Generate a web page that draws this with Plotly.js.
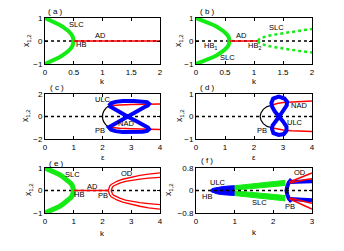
<!DOCTYPE html>
<html><head><meta charset="utf-8">
<script src="https://cdn.plot.ly/plotly-3.0.1.min.js"></script>
<style>body{margin:0;padding:0;background:#fff}#c{width:344px;height:251px}</style>
</head><body><div id="c"></div>
<script>
// ---------- panel (a) ----------
const a_k = [0,0.05,0.1,0.15,0.2,0.25,0.3,0.35,0.4,0.45,0.48,0.5];
const a_up = [1,0.949,0.894,0.837,0.775,0.707,0.632,0.548,0.447,0.316,0.2,0];
const a_dn = [-1,-0.949,-0.894,-0.837,-0.775,-0.707,-0.632,-0.548,-0.447,-0.316,-0.2,0];
const a_adK = [0.5,2]; const a_adY = [0,0];
// ---------- panel (b) ----------
const b_k1 = [0,0.06,0.12,0.18,0.24,0.3,0.36,0.42,0.48,0.53,0.56,0.58];
const b_up1 = [1,0.947,0.891,0.831,0.766,0.695,0.616,0.525,0.415,0.294,0.186,0];
const b_dn1 = [-1,-0.947,-0.891,-0.831,-0.766,-0.695,-0.616,-0.525,-0.415,-0.294,-0.186,0];
const b_adK = [0.58,1.07]; const b_adY = [0,0];
const b_k2 = [1.07,1.09,1.13,1.18,1.25,1.32,1.4,1.5,1.6,1.7,1.8,1.9,2.0];
const b_up2 = [0,0.077,0.135,0.18,0.228,0.265,0.3,0.345,0.385,0.42,0.455,0.49,0.52];
const b_dn2 = [0,-0.074,-0.13,-0.173,-0.22,-0.255,-0.29,-0.333,-0.37,-0.405,-0.44,-0.47,-0.5];
// ---------- panel (c) ----------
const c_pbE = [2.22,2.12,2.05,2.01,2.0,2.01,2.05,2.12,2.22];
const c_pbY = [0.95,0.75,0.5,0.25,0,-0.25,-0.5,-0.75,-0.95];
const c_redE = [2.22,2.4,2.6,3.0,3.5,4.0];
const c_redUp = [0.95,1.0,1.03,1.06,1.08,1.1];
const c_redDn = [-0.95,-1.0,-1.04,-1.08,-1.12,-1.15];
const c_ulcE = [2.22,2.3,2.45,2.7,3.1,3.4,3.55,3.62,3.58,3.45,3.2,2.87,2.55,2.3,2.22,
                2.3,2.45,2.7,3.1,3.4,3.55,3.62,3.58,3.45,3.2,2.87,2.55,2.3,2.22];
const c_ulcY = [0.95,1.18,1.3,1.37,1.38,1.35,1.28,1.12,0.98,0.82,0.45,0,-0.45,-0.8,-0.95,
                -1.18,-1.3,-1.37,-1.38,-1.35,-1.28,-1.12,-0.98,-0.82,-0.45,0,0.45,0.8,0.95];
// ---------- panel (d) ----------
const d_pbE = [2.62,2.45,2.32,2.24,2.21,2.24,2.32,2.45,2.62];
const d_pbY = [0.5,0.44,0.32,0.16,0,-0.16,-0.32,-0.44,-0.5];
const d_redE = [2.6,2.8,3.0,3.3,3.6,4.0];
const d_redUp = [0.5,0.58,0.62,0.65,0.67,0.69];
const d_redDn = [-0.5,-0.56,-0.6,-0.63,-0.65,-0.67];
const d_ulcE = [2.87,3.02,3.13,3.14,3.05,2.85,2.66,2.6,2.63,2.72,2.87,3.0,3.12,3.12,3.03,2.85,2.67,2.62,2.64,2.73,2.87];
const d_ulcY = [0,0.27,0.5,0.66,0.8,0.88,0.8,0.6,0.42,0.22,0,-0.22,-0.45,-0.64,-0.78,-0.82,-0.74,-0.55,-0.4,-0.22,0];
// ---------- panel (e) ----------
const e_k = [0,0.1,0.2,0.3,0.4,0.5,0.6,0.7,0.8,0.9,0.95,1];
const e_up = [1,0.949,0.894,0.837,0.775,0.707,0.632,0.548,0.447,0.316,0.224,0];
const e_dn = [-1,-0.949,-0.894,-0.837,-0.775,-0.707,-0.632,-0.548,-0.447,-0.316,-0.224,0];
const e_adK = [1,2.2]; const e_adY = [0,0];
const e_odKo = [2.2,2.22,2.25,2.3,2.4,2.5,2.7,3.0,3.3,3.6,4.0];
const e_odUpO = [0,0.12,0.2,0.27,0.35,0.41,0.5,0.6,0.67,0.73,0.78];
const e_odDnO = [0,-0.12,-0.2,-0.28,-0.36,-0.42,-0.52,-0.62,-0.7,-0.77,-0.83];
const e_odKi = [2.3,2.32,2.35,2.4,2.5,2.6,2.8,3.0,3.3,3.6,4.0];
const e_odUpI = [0,0.1,0.16,0.21,0.28,0.33,0.41,0.46,0.51,0.55,0.58];
const e_odDnI = [0,-0.1,-0.16,-0.22,-0.29,-0.34,-0.43,-0.48,-0.54,-0.58,-0.63];
// ---------- panel (f) ----------
const f_ulcK = [0.37,0.4,0.45,0.55,0.7,0.85,1.0,1.0,0.85,0.7,0.55,0.45,0.4,0.37];
const f_ulcY = [0,0.05,0.08,0.11,0.14,0.16,0.17,-0.18,-0.17,-0.15,-0.12,-0.08,-0.05,0];
const f_slcK = [1.0,1.3,1.6,1.9,2.1,2.3,2.3,2.1,1.9,1.6,1.3,1.0];
const f_slcUp = [0.17,0.22,0.26,0.3,0.33,0.36,0.18,0.15,0.12,0.09,0.05,0.02];
const f_slcDn = [-0.18,-0.23,-0.27,-0.31,-0.34,-0.37,-0.18,-0.15,-0.12,-0.09,-0.05,-0.02];
const f_vK = [2.47,2.4,2.36,2.34,2.36,2.4,2.47];
const f_vY = [0.4,0.28,0.14,0,-0.14,-0.28,-0.4];
const f_pbK = [2.4,2.34,2.32,2.34,2.4];
const f_pbY = [0.1,0.06,0,-0.06,-0.1];
const f_blK = [2.42,2.6,2.8,3.0];
const f_blUp = [0.3,0.31,0.32,0.33];
const f_blDn = [-0.3,-0.31,-0.33,-0.35];
const f_redK = [2.42,2.55,2.7,2.85,3.0];
const f_redUpO = [0.3,0.38,0.46,0.54,0.62];
const f_redUpI = [0.27,0.31,0.35,0.39,0.42];
const f_redDnI = [-0.27,-0.32,-0.37,-0.41,-0.45];
const f_redDnO = [-0.3,-0.39,-0.48,-0.57,-0.66];

const GREEN = 'rgb(20,235,20)', RED = 'rgb(255,0,0)', BLUE = 'rgb(0,0,255)', BLACK = 'black';
const traces = [];
function ln(ax, x, y, color, width, dash, extra) {
  const t = {x:x, y:y, xaxis:'x'+ax, yaxis:'y'+ax, mode:'lines', hoverinfo:'skip',
    line:{color:color, width:width, dash:dash||'solid'}};
  Object.assign(t, extra||{});
  traces.push(t);
}
const zero = (ax, xmax) => ln(ax, [0, xmax], [0, 0], BLACK, 1.5, 'dot');

// (a)
zero('', 2);
ln('', a_k, a_up, GREEN, 4); ln('', a_k, a_dn, GREEN, 4);
ln('', a_adK, a_adY, RED, 1.5);
// (b)
zero('2', 2);
ln('2', b_k1, b_up1, GREEN, 4); ln('2', b_k1, b_dn1, GREEN, 4);
ln('2', b_adK, b_adY, RED, 1.5);
ln('2', b_k2, b_up2, GREEN, 2.5, 'dot'); ln('2', b_k2, b_dn2, GREEN, 2.5, 'dot');
// (c)
zero('3', 4);
ln('3', c_pbE, c_pbY, BLACK, 1.2);
ln('3', c_redE, c_redUp, RED, 1.5); ln('3', c_redE, c_redDn, RED, 1.5);
ln('3', c_ulcE, c_ulcY, BLUE, 4);
// (d)
zero('4', 4);
ln('4', d_pbE, d_pbY, BLACK, 1.2);
ln('4', d_redE, d_redUp, RED, 1.5); ln('4', d_redE, d_redDn, RED, 1.5);
ln('4', d_ulcE, d_ulcY, BLUE, 4);
// (e)
zero('5', 4);
ln('5', e_k, e_up, GREEN, 5); ln('5', e_k, e_dn, GREEN, 5);
ln('5', e_adK, e_adY, RED, 1.5);
ln('5', e_odKo, e_odUpO, RED, 1.3); ln('5', e_odKo, e_odDnO, RED, 1.3);
ln('5', e_odKi, e_odUpI, RED, 1.3); ln('5', e_odKi, e_odDnI, RED, 1.3);
// (f)
ln('6', f_ulcK, f_ulcY, BLUE, 1, 'solid', {fill:'toself', fillcolor:BLUE});
ln('6', f_slcK, f_slcUp, GREEN, 1, 'solid', {fill:'toself', fillcolor:GREEN});
ln('6', f_slcK, f_slcDn, GREEN, 1, 'solid', {fill:'toself', fillcolor:GREEN});
ln('6', f_blK, f_blUp, BLUE, 4); ln('6', f_blK, f_blDn, BLUE, 4);
ln('6', f_vK, f_vY, BLUE, 4);
ln('6', f_redK, f_redUpO, RED, 1.5); ln('6', f_redK, f_redUpI, RED, 1.5);
ln('6', f_redK, f_redDnI, RED, 1.5); ln('6', f_redK, f_redDnO, RED, 1.5);
zero('6', 3);
ln('6', f_pbK, f_pbY, BLACK, 1.2);

const W = 344, H = 251;
const px = v => v / W, py = v => 1 - v / H;
const base = {showline:true, mirror:'ticks', linecolor:'black', linewidth:1, ticks:'inside',
  ticklen:3, tickcolor:'black', showgrid:false, zeroline:false, tickfont:{size:8, color:'black'},
  fixedrange:true};
const colX = [[45, 160], [196, 312]];
const rowY = [[18, 64], [94, 139], [168, 213]];
const xcfg = [
  {range:[0,2], tickvals:[0,0.5,1,1.5,2], ticktext:['0','0.5','1','1.5','2']},
  {range:[0,2], tickvals:[0,0.5,1,1.5,2], ticktext:['0','0.5','1','1.5','2']},
  {range:[0,4], tickvals:[0,1,2,3,4]},
  {range:[0,4], tickvals:[0,1,2,3,4]},
  {range:[0,4], tickvals:[0,1,2,3,4]},
  {range:[0,3], tickvals:[0,1,2,3]}];
const ycfg = [
  {range:[-1,1], tickvals:[-1,0,1]},
  {range:[-1,1], tickvals:[-1,0,1]},
  {range:[-2,2], tickvals:[-2,0,2]},
  {range:[-1,1], tickvals:[-1,0,1]},
  {range:[-1,1], tickvals:[-1,0,1]},
  {range:[-0.8,0.8], tickvals:[-0.8,0,0.8]}];
const layout = {width:W, height:H, margin:{l:0,r:0,t:0,b:0,pad:0}, showlegend:false,
  paper_bgcolor:'white', plot_bgcolor:'white',
  font:{family:'Liberation Sans, Arial, sans-serif', size:8, color:'black'}, annotations:[]};
for (let i = 0; i < 6; i++) {
  const c = colX[i % 2], r = rowY[Math.floor(i / 2)];
  const s = i === 0 ? '' : String(i + 1);
  layout['xaxis' + s] = Object.assign({}, base, xcfg[i], {domain:[px(c[0]), px(c[1])], anchor:'y' + s});
  layout['yaxis' + s] = Object.assign({}, base, ycfg[i], {domain:[py(r[1]), py(r[0])], anchor:'x' + s});
}
function pa(text, x, y, size, angle) {
  layout.annotations.push({text:text, xref:'paper', yref:'paper', x:px(x), y:py(y),
    xanchor:'center', yanchor:'middle', showarrow:false, font:{size:size||8}, textangle:angle||0});
}
function da(ax, text, x, y) {
  layout.annotations.push({text:text, xref:'x' + ax, yref:'y' + ax, x:x, y:y,
    xanchor:'center', yanchor:'middle', showarrow:false, font:{size:7.5}});
}
// panel tags
pa('( a )', 55, 12); pa('( b )', 207, 12); pa('( c )', 57, 87);
pa('( d )', 207, 87); pa('( e )', 57, 163); pa('( f )', 207, 160);
// axis titles
pa('k', 102, 82, 8); pa('k', 254, 82, 8);
pa('ε', 103, 157, 8); pa('ε', 254, 157, 8);
pa('k', 102, 233, 8); pa('k', 254, 232, 8);
pa('x<sub>1,2</sub>', 27, 41, 8.5, -90); pa('x<sub>1,2</sub>', 179, 41, 8.5, -90);
pa('x<sub>1,2</sub>', 25, 116, 8.5, -90); pa('x<sub>1,2</sub>', 179, 116, 8.5, -90);
pa('x<sub>1,2</sub>', 28, 190, 8.5, -90); pa('x<sub>1,2</sub>', 168, 190, 8.5, -90);
// in-plot labels
da('', 'SLC', 0.54, 0.7); da('', 'AD', 0.96, 0.26); da('', 'HB', 0.63, -0.17);
da('2', 'HB<sub>1</sub>', 0.25, -0.2); da('2', 'SLC', 0.55, -0.72); da('2', 'AD', 0.78, 0.25);
da('2', 'HB<sub>2</sub>', 1.0, -0.2); da('2', 'SLC', 1.38, 0.6);
da('3', 'ULC', 2.0, 1.55); da('3', 'NAD', 2.8, -0.6); da('3', 'PB', 1.93, -1.25);
da('4', 'NAD', 3.55, 0.5); da('4', 'ULC', 3.42, -0.25); da('4', 'PB', 2.28, -0.64);
da('5', 'SLC', 0.94, 0.69); da('5', 'AD', 1.64, 0.2); da('5', 'HB', 1.17, -0.17);
da('5', 'PB', 2.02, -0.23); da('5', 'OD', 2.84, 0.76);
da('6', 'ULC', 0.58, 0.29); da('6', 'HB', 0.28, -0.2); da('6', 'SLC', 1.65, -0.41);
da('6', 'PB', 2.42, -0.56); da('6', 'OD', 2.68, 0.65);
Plotly.newPlot('c', traces, layout, {staticPlot:true, displayModeBar:false});
</script></body></html>
